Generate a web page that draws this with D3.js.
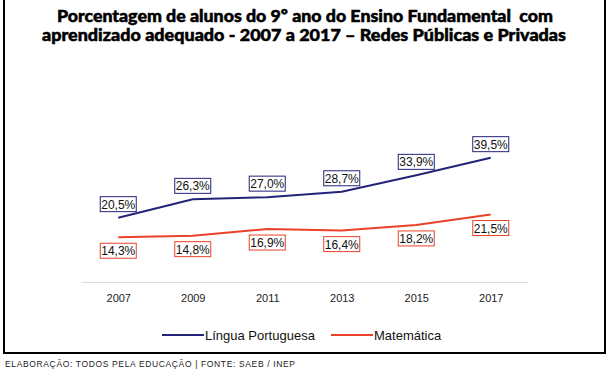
<!DOCTYPE html>
<html>
<head>
<meta charset="utf-8">
<script src="https://cdn.jsdelivr.net/npm/d3@7"></script>
<style>
  body { margin: 0; background: #fff; }
  svg { display: block; }
</style>
</head>
<body>
<div id="canvas"></div>
<script>
const years = ["2007", "2009", "2011", "2013", "2015", "2017"];
const portugues = [20.5, 26.3, 27.0, 28.7, 33.9, 39.5];
const matematica = [14.3, 14.8, 16.9, 16.4, 18.2, 21.5];
const seriesNames = ["Língua Portuguesa", "Matemática"];
const colors = ["#23237a", "#ea4129"];

const width = 614;
const height = 378;

const svg = d3.select("#canvas").append("svg")
    .attr("width", width)
    .attr("height", height);

// moldura
svg.append("path")
    .attr("d", "M4,0 V353 H605 V0")
    .attr("fill", "none")
    .attr("stroke", "#000")
    .attr("stroke-width", 2);

// titulo
const titleLines = [
    {text: "Porcentagem de alunos do 9º ano do Ensino Fundamental  com", x: 57, len: 496, y: 22},
    {text: "aprendizado adequado - 2007 a 2017 – Redes Públicas e Privadas", x: 42, len: 524, y: 41}
];
titleLines.forEach(l => {
    svg.append("text")
        .attr("x", l.x)
        .attr("y", l.y)
        .attr("textLength", l.len)
        .attr("lengthAdjust", "spacingAndGlyphs")
        .attr("xml:space", "preserve")
        .style("white-space", "pre")
        .style("font-family", "Lato")
        .style("font-weight", "900")
        .style("font-size", "17px")
        .attr("fill", "#000")
        .attr("stroke", "#000")
        .attr("stroke-width", 0.5)
        .text(l.text);
});

const x = d3.scalePoint()
    .domain(years)
    .range([81, 528])
    .padding(0.5);

const y = d3.scaleLinear()
    .domain([0, 45])
    .range([282.4, 140.3]);

// linha de base
svg.append("line")
    .attr("x1", 81).attr("x2", 528)
    .attr("y1", y(0)).attr("y2", y(0))
    .attr("stroke", "#d9d9d9")
    .attr("stroke-width", 1);

const xAxis = svg.append("g")
    .attr("transform", `translate(0, ${y(0)})`)
    .call(d3.axisBottom(x).tickSize(0).tickPadding(12));
xAxis.select(".domain").remove();
xAxis.selectAll("text")
    .style("font-family", "Liberation Sans, Arial")
    .style("font-size", "11px")
    .attr("fill", "#222");

const line = d3.line()
    .x((d, i) => x(years[i]))
    .y(d => y(d));

const series = [portugues, matematica];

series.forEach((vals, s) => {
    svg.append("path")
        .datum(vals)
        .attr("d", line)
        .attr("fill", "none")
        .attr("stroke", colors[s])
        .attr("stroke-width", 2);
});

// rotulos
series.forEach((vals, s) => {
    const g = svg.append("g");
    vals.forEach((v, i) => {
        const cx = x(years[i]);
        const py = y(v);
        const bw = 36, bh = 15;
        const top = s === 0 ? py - 6 - bh : py + 6;
        g.append("rect")
            .attr("x", cx - bw / 2)
            .attr("y", top)
            .attr("width", bw)
            .attr("height", bh)
            .attr("fill", "#fff")
            .attr("stroke", colors[s])
            .attr("stroke-width", 1);
        g.append("text")
            .attr("x", cx)
            .attr("y", top + 12)
            .attr("text-anchor", "middle")
            .style("font-family", "Liberation Sans, Arial")
            .style("font-size", "12px")
            .attr("fill", "#111")
            .text(v.toFixed(1).replace(".", ",") + "%");
    });
});

// legenda
const legend = svg.append("g");
const legendX = [162, 331];
seriesNames.forEach((name, s) => {
    legend.append("line")
        .attr("x1", legendX[s]).attr("x2", legendX[s] + 42)
        .attr("y1", 335).attr("y2", 335)
        .attr("stroke", colors[s])
        .attr("stroke-width", 2);
    legend.append("text")
        .attr("x", legendX[s] + 43)
        .attr("y", 339.5)
        .style("font-family", "Liberation Sans, Arial")
        .style("font-size", "13px")
        .attr("fill", "#111")
        .text(name);
});

// fonte
svg.append("text")
    .attr("x", 5)
    .attr("y", 367)
    .style("font-family", "Liberation Sans, Arial")
    .style("font-size", "8.5px")
    .attr("textLength", 290)
    .attr("lengthAdjust", "spacing")
    .attr("fill", "#222")
    .text("ELABORAÇÃO: TODOS PELA EDUCAÇÃO | FONTE: SAEB / INEP");
</script>
</body>
</html>
